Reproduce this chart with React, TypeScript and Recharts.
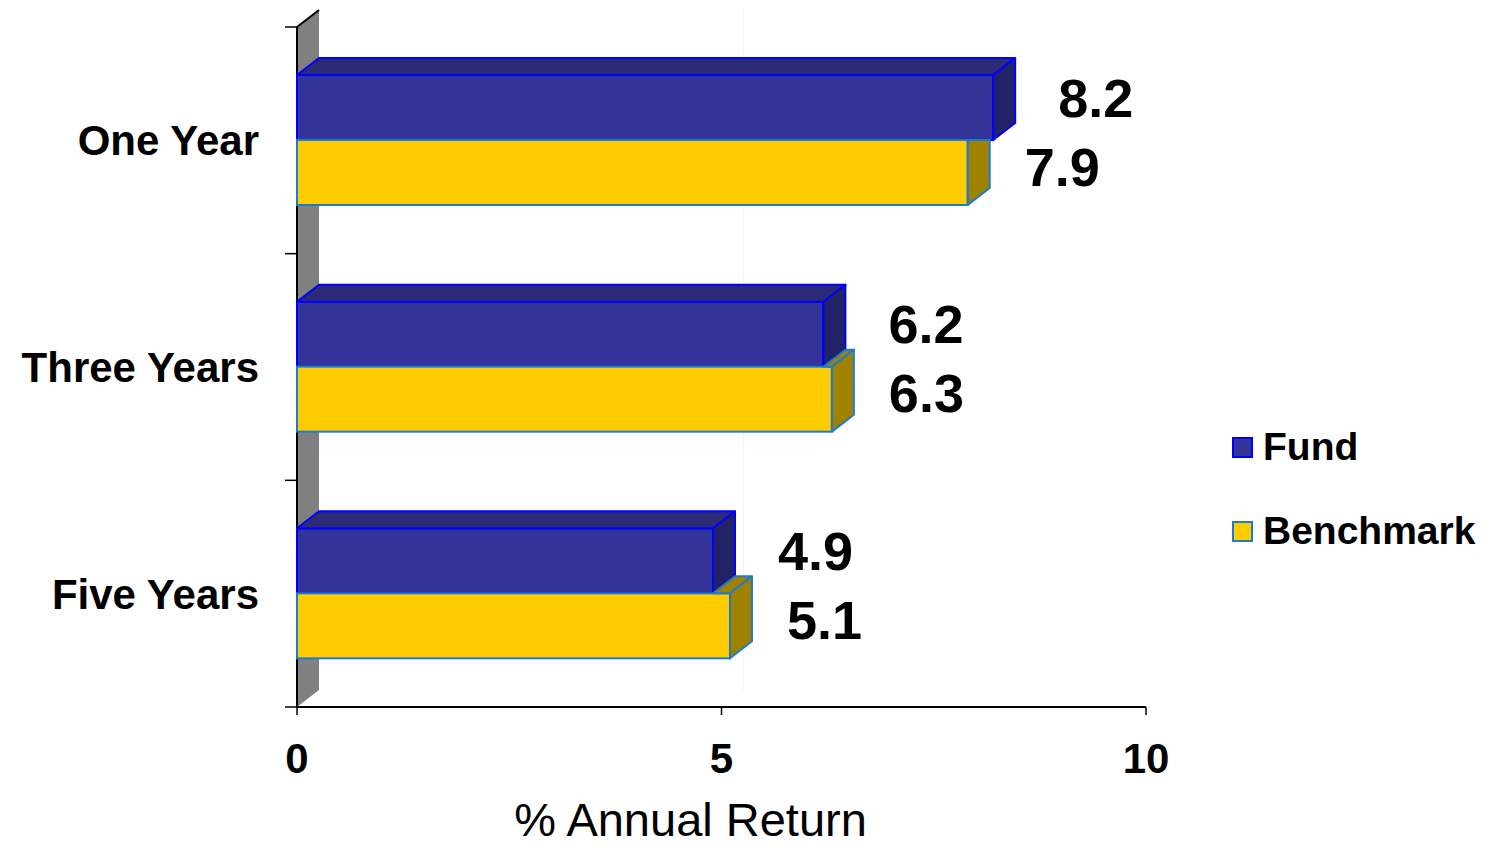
import {
  BarChart,
  Bar,
  XAxis,
  YAxis,
  Legend,
  LabelList,
  ReferenceArea,
} from "recharts";

const categories = ["One Year", "Three Years", "Five Years"];
const fundReturns = [8.2, 6.2, 4.9];
const benchmarkReturns = [7.9, 6.3, 5.1];
const xTicks = [0, 5, 10];
const seriesNames = ["Fund", "Benchmark"];

const data = categories.map((name, i) => ({
  name,
  fund: fundReturns[i],
  benchmark: benchmarkReturns[i],
}));

const FONT = '"Liberation Sans", Arial, sans-serif';
// 3d depth of the bars
const DX = 22;
const DY = 17;

const FUND = { front: "#333399", top: "#2b2b78", side: "#222266", stroke: "#0000ff" };
const BENCH = { front: "#ffcc00", top: "#a08200", side: "#a08200", stroke: "#1b7bd0" };

const pts = (arr: number[][]) => arr.map((p) => p.join(",")).join(" ");

const FundShape = (props: any) => {
  const { x, y, width, height } = props;
  const r = x + width;
  return (
    <g>
      <rect x={x} y={y} width={width} height={height} fill={FUND.front} stroke={FUND.stroke} strokeWidth={2} />
      <polygon
        points={pts([[x, y], [x + DX, y - DY], [r + DX, y - DY], [r, y]])}
        fill={FUND.top}
        stroke={FUND.stroke}
        strokeWidth={2}
        strokeLinejoin="round"
      />
      <polygon
        points={pts([[r, y], [r + DX, y - DY], [r + DX, y + height - DY], [r, y + height]])}
        fill={FUND.side}
        stroke={FUND.stroke}
        strokeWidth={2}
        strokeLinejoin="round"
      />
    </g>
  );
};

const BenchShape = (props: any) => {
  const { x, y, width, height, payload } = props;
  const perUnit = width / payload.benchmark;
  const fEnd = x + payload.fund * perUnit;
  const bEnd = x + width;
  const yB = y + height;
  const k = DY / DX;
  let side: number[][];
  let top: number[][] | null = null;
  if (fEnd < bEnd) {
    top = [[fEnd, y], [bEnd, y], [bEnd + DX, y - DY], [fEnd + DX, y - DY]];
    side = [[bEnd, y], [bEnd + DX, y - DY], [bEnd + DX, yB - DY], [bEnd, yB]];
  } else {
    // fund bar sits above and hides the upper part of the side face
    const cx = Math.min(fEnd, bEnd + DX);
    const rightTop = fEnd < bEnd + DX ? y - (bEnd + DX - fEnd) * k : y;
    side = [[bEnd, y], [cx, y], [bEnd + DX, rightTop], [bEnd + DX, yB - DY], [bEnd, yB]];
  }
  return (
    <g>
      <rect x={x} y={y} width={width} height={height} fill={BENCH.front} stroke={BENCH.stroke} strokeWidth={2} />
      {top && (
        <polygon points={pts(top)} fill={BENCH.top} stroke={BENCH.stroke} strokeWidth={2} strokeLinejoin="round" />
      )}
      <polygon points={pts(side)} fill={BENCH.side} stroke={BENCH.stroke} strokeWidth={2} strokeLinejoin="round" />
    </g>
  );
};

const makeLabel = (dxOff: number, dyOff: number) => (props: any) => {
  const { x, y, width, height, value } = props;
  return (
    <text
      x={x + width + DX + dxOff}
      y={y + height / 2 + dyOff}
      textAnchor="start"
      dominantBaseline="central"
      fontFamily={FONT}
      fontWeight="bold"
      fontSize={54}
      fill="#000"
    >
      {value}
    </text>
  );
};

// gray back wall, vertical axis line and band ticks
const WallShape = (props: any) => {
  const { x, y, width, height } = props;
  const yB = y + height;
  const bands = categories.length;
  return (
    <g>
      <polygon points={pts([[x, y], [x + DX, y - DY], [x + DX, yB - DY], [x, yB]])} fill="#808080" />
      <line x1={x + 0.5 * width} y1={y - DY} x2={x + 0.5 * width} y2={yB - DY} stroke="#f3f3f3" strokeWidth={1} transform={`translate(${DX},0)`} />
      <line x1={x} y1={y} x2={x + DX} y2={y - DY} stroke="#000" strokeWidth={2} />
      <line x1={x} y1={y} x2={x} y2={yB} stroke="#000" strokeWidth={2} />
      {Array.from({ length: bands + 1 }, (_, i) => {
        const ty = y + (i * height) / bands;
        return <line key={i} x1={x - 12} y1={ty} x2={x} y2={ty} stroke="#000" strokeWidth={1.5} />;
      })}
    </g>
  );
};

const renderLegend = (props: any) => {
  const { payload } = props;
  const strokes: Record<string, string> = { Fund: FUND.stroke, Benchmark: BENCH.stroke };
  const items = [...payload].sort(
    (a: any, b: any) => seriesNames.indexOf(a.value) - seriesNames.indexOf(b.value)
  );
  return (
    <div style={{ fontFamily: FONT }}>
      {items.map((entry: any) => (
        <div key={entry.value} style={{ display: "flex", alignItems: "center", height: 84 }}>
          <span
            style={{
              display: "inline-block",
              width: 17,
              height: 17,
              background: entry.color,
              border: `2px solid ${strokes[entry.value]}`,
              marginRight: 10,
            }}
          />
          <span style={{ fontSize: 39, fontWeight: "bold", color: "#000" }}>{entry.value}</span>
        </div>
      ))}
    </div>
  );
};

const AxisTitle = (props: any) => {
  const { viewBox } = props;
  return (
    <text
      x={viewBox.x + viewBox.width / 2 - 31}
      y={viewBox.y + viewBox.height - 14}
      textAnchor="middle"
      fontFamily={FONT}
      fontSize={47}
      fill="#000"
    >
      % Annual Return
    </text>
  );
};

export default function App() {
  return (
    <div style={{ position: "absolute", left: 0, top: 0, background: "#fff" }}>
      <BarChart
        width={1487}
        height={850}
        data={data}
        layout="vertical"
        margin={{ top: 27, right: 341, left: 0, bottom: 0 }}
        barSize={65}
        barGap={0}
      >
        <ReferenceArea x1={0} x2={10} shape={WallShape} ifOverflow="visible" />
        <XAxis
          type="number"
          domain={[0, 10]}
          ticks={xTicks}
          height={143}
          axisLine={{ stroke: "#000", strokeWidth: 2 }}
          tickLine={{ stroke: "#000", strokeWidth: 1.5 }}
          tickSize={8}
          tickMargin={28}
          tick={{ fontFamily: FONT, fontWeight: "bold", fontSize: 42, fill: "#000" }}
          label={<AxisTitle />}
        />
        <YAxis
          type="category"
          dataKey="name"
          width={297}
          axisLine={false}
          tickLine={false}
          tickSize={0}
          tickMargin={38}
          tick={{ fontFamily: FONT, fontWeight: "bold", fontSize: 42, fill: "#000" }}
        />
        <Legend
          layout="vertical"
          align="center"
          verticalAlign="middle"
          content={renderLegend}
          wrapperStyle={{ left: 1232, top: 405, width: 260 }}
        />
        <Bar dataKey="fund" name="Fund" fill={FUND.front} shape={FundShape} isAnimationActive={false}>
          <LabelList dataKey="fund" content={makeLabel(43, -10)} />
        </Bar>
        <Bar dataKey="benchmark" name="Benchmark" fill={BENCH.front} shape={BenchShape} isAnimationActive={false}>
          <LabelList dataKey="benchmark" content={makeLabel(35, -6)} />
        </Bar>
      </BarChart>
    </div>
  );
}
